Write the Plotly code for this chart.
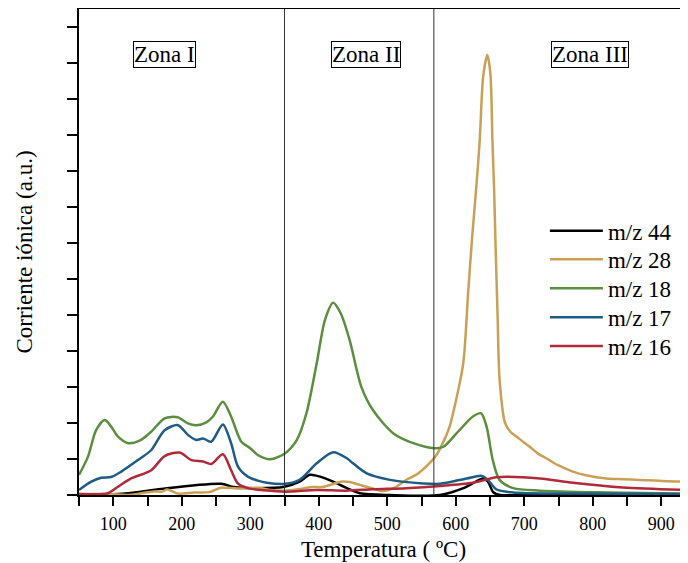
import plotly.graph_objects as go

# ---- data (temperature in degC, ion current in arbitrary units) ----
t44 = [50, 100, 131, 170, 257, 276, 304, 350, 372, 387, 402, 421, 441, 460, 504, 577, 611, 630, 640, 647, 655, 665, 700, 940]
v44 = [0.02, 0.02, 0.07, 0.17, 0.31, 0.22, 0.19, 0.23, 0.37, 0.56, 0.51, 0.37, 0.19, 0.05, 0.0, 0.0, 0.19, 0.38, 0.46, 0.37, 0.07, 0.0, 0.0, 0.0]

t28 = [50, 80, 100, 120, 145, 160, 170, 179, 194, 218, 240, 257, 282, 311, 330, 352, 370, 390, 405, 420, 432, 445, 460, 475, 494, 510, 528, 545, 560, 570, 580, 591, 600, 611, 618, 624, 630, 635, 640, 646, 650.5, 653.5, 656, 658, 661, 664, 672, 680, 689, 700, 708, 720, 732, 750, 771, 790, 820, 845, 868, 890, 910, 937]
v28 = [0.03, 0.03, 0.02, 0.0, 0.06, 0.1, 0.09, 0.15, 0.04, 0.07, 0.08, 0.2, 0.18, 0.2, 0.14, 0.12, 0.16, 0.22, 0.22, 0.3, 0.37, 0.36, 0.28, 0.2, 0.11, 0.2, 0.42, 0.6, 0.85, 1.06, 1.4, 1.9, 2.6, 3.67, 5.6, 7.18, 8.56, 9.86, 11.62, 12.22, 11.71, 9.86, 8.47, 7.0, 5.0, 3.2, 2.0, 1.75, 1.62, 1.45, 1.34, 1.15, 1.02, 0.82, 0.65, 0.55, 0.46, 0.44, 0.42, 0.40, 0.38, 0.37]

t18 = [50, 63, 75, 87.5, 97, 107, 121.5, 138.5, 155.5, 175, 194, 209, 221, 236, 245.5, 260, 272, 287, 300, 311, 329, 351, 368, 382, 397, 409, 421, 432, 445, 462, 479, 509, 538, 569, 582, 601, 625, 637, 645, 654, 664, 684, 723, 820, 937]
v18 = [0.56, 1.06, 1.8, 2.08, 1.9, 1.62, 1.44, 1.51, 1.76, 2.13, 2.16, 1.99, 1.94, 2.02, 2.18, 2.59, 2.18, 1.48, 1.3, 1.11, 0.99, 1.16, 1.53, 2.27, 3.66, 4.86, 5.34, 5.05, 4.31, 3.01, 2.36, 1.71, 1.44, 1.30, 1.34, 1.71, 2.18, 2.27, 1.9, 0.97, 0.42, 0.19, 0.12, 0.07, 0.04]

t17 = [50, 68, 82.5, 97, 111.7, 136, 155.5, 175, 194.4, 209, 221, 231, 243, 260, 272, 282, 296.5, 311, 324, 351, 372, 397, 421, 441, 450, 470, 504, 552, 577, 616, 638, 647, 659, 684, 760, 937]
v17 = [0.14, 0.37, 0.48, 0.5, 0.65, 0.97, 1.25, 1.8, 1.94, 1.67, 1.53, 1.57, 1.48, 1.96, 1.44, 0.79, 0.51, 0.4, 0.34, 0.31, 0.42, 0.88, 1.19, 1.02, 0.88, 0.6, 0.42, 0.32, 0.31, 0.46, 0.53, 0.42, 0.16, 0.07, 0.04, 0.03]

t16 = [50, 92, 107, 126, 155.5, 175, 196.8, 214, 231, 243, 260, 272, 282, 296.5, 320, 351, 397, 440, 479, 528, 577, 625, 659, 674, 723, 771, 844, 937]
v16 = [0.03, 0.05, 0.23, 0.46, 0.69, 1.08, 1.18, 0.97, 0.93, 0.86, 1.13, 0.69, 0.32, 0.19, 0.13, 0.09, 0.14, 0.12, 0.16, 0.19, 0.25, 0.34, 0.49, 0.51, 0.46, 0.34, 0.21, 0.14]

series_names = ["m/z 44", "m/z 28", "m/z 18", "m/z 17", "m/z 16"]
series_colors = ["#000000", "#C9A055", "#5B8E3E", "#1F5C85", "#B02A3A"]
series_t = [t44, t28, t18, t17, t16]
series_v = [v44, v28, v18, v17, v16]

zone_bounds = [350, 568]
zone_labels = ["Zona I", "Zona II", "Zona III"]
zone_label_x = [175, 469, 796]
zone_label_y = 12.25

x_tickvals = [100, 200, 300, 400, 500, 600, 700, 800, 900]
x_minor_tickvals = [50, 150, 250, 350, 450, 550, 650, 750, 850]
y_tickvals = list(range(0, 14))

FONT = "Liberation Serif, Times New Roman, serif"

# the page body has an 8 px margin, so the figure is 8 px smaller and margins are shifted
W, H = 680, 555
ML, MR, MT, MB = 71, 0, 1, 68
plot_h = H - MT - MB

# legend entry centres (in figure pixels from top) -> one native legend per series
legend_centres_px = [222.7, 251.3, 280.3, 309.3, 338.0]
legend_names = ["legend", "legend2", "legend3", "legend4", "legend5"]

fig = go.Figure()
for name, col, t, v, lg in zip(series_names, series_colors, series_t, series_v, legend_names):
    fig.add_trace(go.Scatter(x=t, y=v, mode="lines", name=name, legend=lg,
                             line=dict(color=col, width=2.5, shape="spline", smoothing=0.8)))

for xb in zone_bounds:
    fig.add_shape(type="line", xref="x", yref="paper", x0=xb, x1=xb, y0=0, y1=1,
                  line=dict(color="#333333", width=1))

for lab, lx in zip(zone_labels, zone_label_x):
    fig.add_annotation(x=lx, y=zone_label_y, xref="x", yref="y", text=lab, showarrow=False,
                       font=dict(family=FONT, size=23, color="black"),
                       bordercolor="black", borderwidth=1, borderpad=0, bgcolor="white")

legend_layout = {}
for lg, cy in zip(legend_names, legend_centres_px):
    legend_layout[lg] = dict(x=0.765, y=(H - MB - cy) / plot_h, xanchor="left", yanchor="middle",
                             font=dict(family=FONT, size=23, color="black"),
                             bgcolor="rgba(0,0,0,0)", itemwidth=53)

fig.update_layout(
    width=W, height=H,
    margin=dict(l=ML, r=MR, t=MT, b=MB, autoexpand=False),
    paper_bgcolor="white", plot_bgcolor="white",
    font=dict(family=FONT, size=18, color="black"),
    showlegend=True,
    **legend_layout,
)
fig.update_xaxes(range=[50, 939], tickvals=x_tickvals, ticks="outside", ticklen=9, tickwidth=2,
                 tickcolor="black", showline=True, linewidth=2, linecolor="black", mirror=True,
                 showgrid=False, zeroline=False, automargin=False, ticklabelstandoff=2,
                 minor=dict(tickvals=x_minor_tickvals, ticks="outside", ticklen=9, tickwidth=2, tickcolor="black"),
                 title=dict(text="Temperatura ( ºC)", font=dict(family=FONT, size=23), standoff=8),
                 tickfont=dict(family=FONT, size=18))
fig.update_yaxes(range=[0, plot_h / 36.0], tickvals=y_tickvals, ticks="outside", ticklen=10, tickwidth=2,
                 tickcolor="black", showline=True, linewidth=2, linecolor="black",
                 showticklabels=False, showgrid=False, zeroline=False, automargin=False,
                 title=dict(text="Corriente iónica (a.u.)", font=dict(family=FONT, size=23), standoff=28))

fig.write_html("out.html")
